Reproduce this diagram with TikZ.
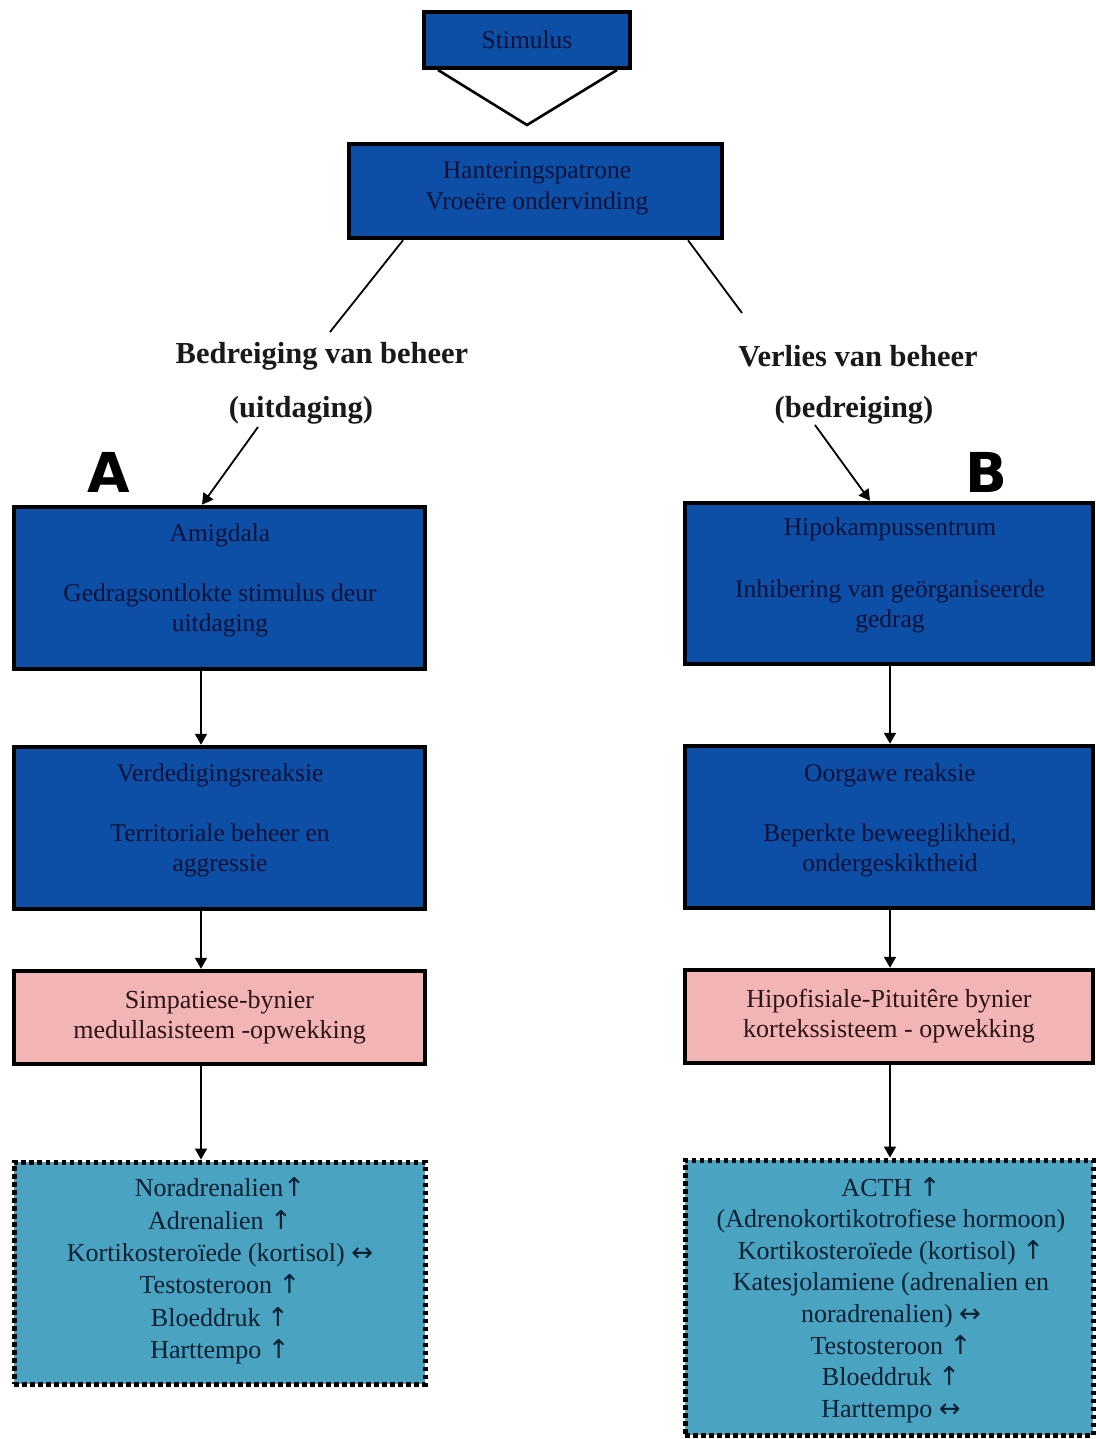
\documentclass[tikz,border=0pt]{standalone}
\usepackage{fontspec}
\setmainfont{Liberation Serif}
\newfontfamily\heavysans{DejaVu Sans}
\newfontfamily\arrowfont{DejaVu Sans}
\newcommand{\upar}{{\arrowfont ↑}}
\newcommand{\lrar}{{\arrowfont ↔}}
\usetikzlibrary{arrows.meta,calc}
\definecolor{boxblue}{RGB}{13,79,166}
\definecolor{navytext}{RGB}{8,18,56}
\definecolor{pinkfill}{RGB}{242,180,180}
\definecolor{pinktext}{RGB}{45,22,22}
\definecolor{tealfill}{RGB}{75,163,194}
\definecolor{tealtext}{RGB}{6,32,50}
\definecolor{labeltext}{RGB}{25,25,25}
\begin{document}
\begin{tikzpicture}[x=1pt,y=-1pt,
  bluebox/.style={draw=black,line width=4.5pt,fill=boxblue,inner sep=0pt},
  bluetext/.style={text=navytext,font=\fontsize{25.5}{30}\selectfont,align=center,inner sep=0pt},
  pinkbox/.style={draw=black,line width=4.5pt,fill=pinkfill,text=pinktext,font=\fontsize{26}{30}\selectfont,align=center,inner sep=0pt},
  tealbox/.style={draw=black,line width=5pt,dash pattern=on 4.5pt off 3.5pt,fill=tealfill,inner sep=0pt},
  tealtxt/.style={text=tealtext,align=center,inner sep=0pt},
  lbl/.style={font=\bfseries\fontsize{30.5}{30}\selectfont,text=labeltext,inner sep=0pt},
  arr/.style={draw=black,line width=1.8pt,-{Triangle[length=11pt,width=12pt]}},
  conn/.style={draw=black,line width=1.8pt},
  letter/.style={font=\heavysans\bfseries\fontsize{55}{55}\selectfont,inner sep=0pt}
]
\useasboundingbox[fill=white] (0,0) rectangle (1095,1439);

% top
\node[bluebox,minimum width=206pt,minimum height=56pt] (stim) at (527,40) {};
\node[bluetext] (stimT) at (527,40) {Stimulus};
\coordinate (tL) at (438,70);
\coordinate (tA) at (527,125);
\coordinate (tR) at (617,70);
\draw[draw=black,line width=2.6pt,line join=miter] (tL) -- (tA) -- (tR);

\node[bluebox,minimum width=373pt,minimum height=94pt] (hant) at (535.5,191) {};
\node[bluetext,font=\fontsize{25.5}{31}\selectfont] (hantT) at (537,188) {Hanteringspatrone\\Vroeëre ondervinding};

% labels
\node[lbl] (lblL1) at (322,356) {Bedreiging van beheer};
\node[lbl] (lblL2) at (301,410) {(uitdaging)};
\node[lbl] (lblR1) at (858,356) {Verlies van beheer};
\node[lbl] (lblR2) at (854,410) {(bedreiging)};

\coordinate (hL) at (403,0);
\coordinate (hLe) at (330,332);
\coordinate (hR) at (688,0);
\coordinate (hRe) at (742,313);
\draw[conn] (hant.south -| hL) -- (hLe);
\draw[conn] (hant.south -| hR) -- (hRe);

\node[letter] (letA) at (109,472) {A};
\node[letter] (letB) at (986,472) {B};

% blue boxes
\node[bluebox,minimum width=411pt,minimum height=162pt] (amig) at (219.5,588) {};
\node[bluetext] (amigT) at (220,580) {Amigdala\\[30pt]Gedragsontlokte stimulus deur\\uitdaging};
\node[bluebox,minimum width=408pt,minimum height=161pt] (hipo) at (889,583.5) {};
\node[bluetext] (hipoT) at (890,575) {Hipokampussentrum\\[32pt]Inhibering van geörganiseerde\\gedrag};

\node[bluebox,minimum width=411pt,minimum height=162pt] (verd) at (219.5,828) {};
\node[bluetext] (verdT) at (220,820) {Verdedigingsreaksie\\[30pt]Territoriale beheer en\\aggressie};
\node[bluebox,minimum width=408pt,minimum height=162pt] (oorg) at (889,827) {};
\node[bluetext] (oorgT) at (890,820) {Oorgawe reaksie\\[30pt]Beperkte beweeglikheid,\\ondergeskiktheid};

% pink boxes
\node[pinkbox,minimum width=411pt,minimum height=93pt] (simp) at (219.5,1017.5) {Simpatiese-bynier\\medullasisteem -opwekking};
\node[pinkbox,minimum width=408pt,minimum height=93pt] (hipof) at (889,1016.5) {Hipofisiale-Pituitêre bynier\\kortekssisteem - opwekking};

% teal boxes
\node[tealbox,minimum width=411pt,minimum height=222pt] (resA) at (219.5,1273) {};
\node[tealtxt,font=\fontsize{26}{32.4}\selectfont] (resAT) at (220,1271)
 {Noradrenalien\upar\\Adrenalien \upar\\Kortikosteroïede (kortisol) \lrar\\Testosteroon \upar\\Bloeddruk \upar\\Harttempo \upar};
\node[tealbox,minimum width=408pt,minimum height=275pt] (resB) at (889,1297.5) {};
\node[tealtxt,font=\fontsize{26}{31.6}\selectfont] (resBT) at (891,1300)
 {ACTH \upar\\(Adrenokortikotrofiese hormoon)\\Kortikosteroïede (kortisol) \upar\\Katesjolamiene (adrenalien en\\noradrenalien) \lrar\\Testosteroon \upar\\Bloeddruk \upar\\Harttempo \lrar};

% arrows
\coordinate (colA) at (201,0);
\coordinate (colB) at (890,0);
\coordinate (aS) at (258,427);
\coordinate (aE) at (202,0);
\coordinate (bS) at (815,425);
\coordinate (bE) at (870,0);
\draw[arr] (aS) -- (amig.north -| aE);
\draw[arr] (bS) -- (hipo.north -| bE);
\draw[arr] (amig.south -| colA) -- (verd.north -| colA);
\draw[arr] (verd.south -| colA) -- (simp.north -| colA);
\draw[arr] (simp.south -| colA) -- (resA.north -| colA);
\draw[arr] (hipo.south -| colB) -- (oorg.north -| colB);
\draw[arr] (oorg.south -| colB) -- (hipof.north -| colB);
\draw[arr] (hipof.south -| colB) -- (resB.north -| colB);
\end{tikzpicture}
\end{document}
